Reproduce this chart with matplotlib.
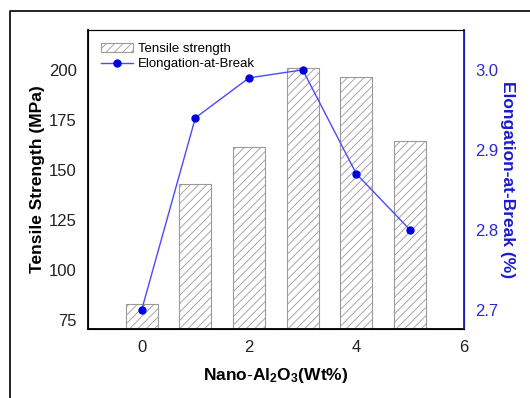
import matplotlib
matplotlib.use('Agg')
import matplotlib.pyplot as plt
from matplotlib.lines import Line2D

plt.rcParams['font.family'] = ['Liberation Sans', 'DejaVu Sans']
plt.rcParams['hatch.linewidth'] = 0.6
plt.rcParams['mathtext.fontset'] = 'custom'
plt.rcParams['mathtext.rm'] = 'Liberation Sans'
plt.rcParams['mathtext.bf'] = 'Liberation Sans:bold'

# Nano-Al2O3 loading (wt%)
loading = [0, 1, 2, 3, 4, 5]
tensile = [83, 143, 161.5, 201, 196.5, 164.5]
elongation = [2.70, 2.94, 2.99, 3.00, 2.87, 2.80]

fig = plt.figure(figsize=(5.3, 3.98), dpi=100)
ax = fig.add_axes([0.166, 0.173, 0.709, 0.752])

bars = ax.bar(loading, tensile, width=0.6, color='white', edgecolor='#9a9a9a',
              hatch='////', linewidth=0.8, label='Tensile strength')
ax.set_xlim(-1, 6)
ax.set_ylim(70.5, 220)
ax.set_xticks([0, 2, 4, 6])
ax.set_yticks([75, 100, 125, 150, 175, 200])
ax.tick_params(length=0, labelsize=12, pad=8, labelcolor='#222222')
ax.set_xlabel(r'$\mathbf{Nano\text{-}Al_2O_3(Wt\%)}$', fontsize=12.5, labelpad=8)
ax.set_ylabel('Tensile Strength (MPa)', fontsize=12.5, fontweight='bold', labelpad=3)
for s in ['left', 'bottom']:
    ax.spines[s].set_linewidth(1.3)
ax.spines['top'].set_color('#444444')

ax2 = ax.twinx()
line, = ax2.plot(loading, elongation, color='#4a4aff', lw=1.0, marker='o',
                 ms=5, mfc='#0000dd', mec='#0000dd', label='Elongation-at-Break')
ax2.set_ylim(2.676, 3.05)
ax2.set_yticks([2.7, 2.8, 2.9, 3.0])
ax2.tick_params(length=0, labelsize=12, colors='#2a2acc', pad=8)
ax2.set_ylabel('Elongation-at-Break (%)', fontsize=12.5, fontweight='bold',
               color='#1a1ad0', rotation=270, labelpad=12)
ax2.spines['right'].set_color('#1a1ad0')
ax2.spines['right'].set_linewidth(1.3)

ax.legend([bars, line], ['Tensile strength', 'Elongation-at-Break'],
          loc='upper left', frameon=False, fontsize=9.5, handlelength=2.4,
          borderaxespad=0.6, labelspacing=0.2, handletextpad=0.4)

# outer frame around the panel
fig.add_artist(Line2D([0.019, 0.019, 1.0], [0.0, 0.972, 0.972],
                      transform=fig.transFigure, color='black', lw=1.2))

fig.savefig('out.png', dpi=100)
